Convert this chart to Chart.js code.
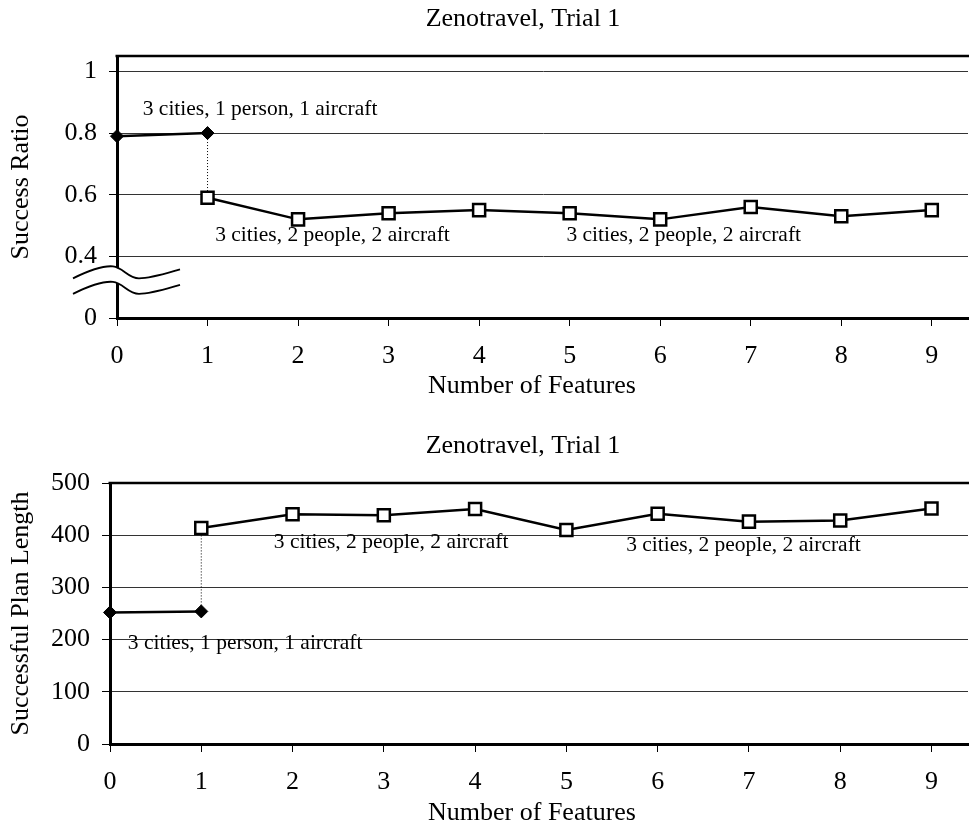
<!DOCTYPE html>
<html>
<head>
<meta charset="utf-8">
<script src="https://cdn.jsdelivr.net/npm/chart.js@4/dist/chart.umd.min.js"></script>
<style>
  html, body { margin: 0; padding: 0; background: #fff; }
  #wrap { width: 969px; height: 830px; }
  canvas { display: block; }
</style>
</head>
<body>
<div id="wrap">
  <canvas id="ratio" width="969" height="427"></canvas>
  <canvas id="plan" width="969" height="403"></canvas>
</div>
<script>
// ---- data ----
const features = [0, 1, 2, 3, 4, 5, 6, 7, 8, 9];

// 3 cities, 1 person, 1 aircraft
const smallFeatures = [0, 1];
const smallRatio = [0.79, 0.80];
const smallLength = [252, 254];

// 3 cities, 2 people, 2 aircraft
const largeFeatures = [1, 2, 3, 4, 5, 6, 7, 8, 9];
const largeRatio = [0.59, 0.52, 0.54, 0.55, 0.54, 0.52, 0.56, 0.53, 0.55];
const largeLength = [414, 440, 438, 450, 410, 441, 426, 428, 451];

// The ratio axis is broken between 0 and 0.4: zero is placed one step below 0.4.
const ratioTicks = [0.2, 0.4, 0.6, 0.8, 1.0];
const ratioTickLabels = ['0', '0.4', '0.6', '0.8', '1'];
const lengthTicks = [0, 100, 200, 300, 400, 500];

// Text labels placed in data coordinates
const ratioNotes = ['3 cities, 1 person, 1 aircraft', '3 cities, 2 people, 2 aircraft', '3 cities, 2 people, 2 aircraft'];
const ratioNoteX = [1.58, 2.38, 6.26];
const ratioNoteY = [0.876, 0.467, 0.467];
const lengthNotes = ['3 cities, 2 people, 2 aircraft', '3 cities, 2 people, 2 aircraft', '3 cities, 1 person, 1 aircraft'];
const lengthNoteX = [3.08, 6.94, 1.48];
const lengthNoteY = [387, 380, 193];

const chartTitle = 'Zenotravel, Trial 1';
const xTitle = 'Number of Features';
const FONT = '"Liberation Serif", "Times New Roman", serif';

// ---- plugins ----
const decorPlugin = {
  id: 'decor',
  afterDraw(chart, args, opts) {
    const { ctx, chartArea: a } = chart;
    ctx.save();
    // heavy top frame line
    ctx.strokeStyle = '#000';
    ctx.lineWidth = 2.5;
    ctx.beginPath();
    ctx.moveTo(a.left - 1.5, a.top);
    ctx.lineTo(chart.width, a.top);
    ctx.stroke();
    // chart title and x-axis title
    ctx.fillStyle = '#000';
    ctx.textAlign = 'center';
    ctx.textBaseline = 'middle';
    ctx.font = '26px ' + FONT;
    ctx.fillText(opts.title, opts.titleX, opts.titleY);
    ctx.fillText(opts.xTitle, opts.xTitleX, chart.scales.x.bottom - 15.6);
    // notes
    ctx.font = '21.5px ' + FONT;
    const xs = chart.scales.x, ys = chart.scales.y;
    opts.notes.forEach((t, i) => {
      ctx.fillText(t, xs.getPixelForValue(opts.noteX[i]), ys.getPixelForValue(opts.noteY[i]));
    });
    ctx.restore();
  }
};

const breakPlugin = {
  id: 'axisBreak',
  afterDraw(chart) {
    const { ctx } = chart;
    const x0 = chart.chartArea.left;
    const yb = chart.scales.y.getPixelForValue(0.4) + 22;
    const wave = (dy) => {
      ctx.beginPath();
      ctx.moveTo(x0 - 44, yb + dy);
      ctx.bezierCurveTo(x0 - 28, yb + dy - 8, x0 - 15, yb + dy - 13, x0 - 4, yb + dy - 12);
      ctx.bezierCurveTo(x0 + 6, yb + dy - 11, x0 + 11, yb + dy, x0 + 22, yb + dy);
      ctx.bezierCurveTo(x0 + 34, yb + dy, x0 + 49, yb + dy - 5, x0 + 63, yb + dy - 9);
    };
    ctx.save();
    ctx.lineCap = 'butt';
    ctx.strokeStyle = '#fff';
    ctx.lineWidth = 14;
    wave(7.75);
    ctx.stroke();
    ctx.strokeStyle = '#000';
    ctx.lineWidth = 1.8;
    wave(0);
    ctx.stroke();
    wave(15.5);
    ctx.stroke();
    ctx.restore();
  }
};

// ---- builders ----
const pts = (xs, ys) => xs.map((x, i) => ({ x, y: ys[i] }));

function datasets(small, large) {
  return [
    {
      data: pts(largeFeatures, large),
      borderColor: '#000', borderWidth: 2.5, tension: 0, fill: false, clip: false,
      pointStyle: 'rect', pointRadius: 8.5, pointBorderWidth: 2.5,
      pointBackgroundColor: '#fff', pointBorderColor: '#000'
    },
    {
      data: pts(smallFeatures, small),
      borderColor: '#000', borderWidth: 2.5, tension: 0, fill: false, clip: false,
      pointStyle: 'rectRot', pointRadius: 6.5, pointBorderWidth: 1,
      pointBackgroundColor: '#000', pointBorderColor: '#000'
    },
    {
      // dotted link between the two configurations at one feature
      data: [{ x: 1, y: small[1] }, { x: 1, y: large[0] }],
      borderColor: '#000', borderWidth: 1, borderDash: [1, 2], pointRadius: 0, fill: false
    }
  ];
}

function xScale(height) {
  return {
    type: 'linear', min: 0, max: 9.4,
    afterBuildTicks: s => { s.ticks = features.map(v => ({ value: v })); },
    afterFit: s => { s.height = height; s.paddingLeft = 0; s.paddingRight = 0; },
    grid: { drawOnChartArea: false, drawTicks: true, tickLength: 8, color: '#000', lineWidth: 1 },
    border: { display: true, color: '#000', width: 3 },
    ticks: { padding: 15, color: '#000', font: { family: FONT, size: 26 }, maxRotation: 0, autoSkip: false },
    title: { display: false }
  };
}

function yScale(width, min, max, tickVals, labelFn, titleText) {
  return {
    type: 'linear', min, max,
    afterBuildTicks: s => { s.ticks = tickVals.map(v => ({ value: v })); },
    afterFit: s => { s.width = width; s.paddingTop = 0; s.paddingBottom = 0; },
    grid: { color: '#333', lineWidth: 1, drawTicks: true, tickLength: 8, tickColor: '#000' },
    border: { display: true, color: '#000', width: 3 },
    ticks: { padding: 12, color: '#000', font: { family: FONT, size: 26 }, callback: labelFn },
    title: { display: true, text: titleText, color: '#000', font: { family: FONT, size: 26 }, padding: { top: 6, bottom: 0 } }
  };
}

const common = {
  responsive: false,
  animation: false,
  devicePixelRatio: 1,
  events: []
};

new Chart(document.getElementById('ratio'), {
  type: 'line',
  data: { datasets: datasets(smallRatio, largeRatio) },
  options: Object.assign({}, common, {
    layout: { autoPadding: false, padding: { top: 56, right: 1, bottom: 25, left: 0 } },
    scales: {
      x: xScale(84),
      y: yScale(117, 0.2, 1.05, ratioTicks, (v, i) => ratioTickLabels[i], 'Success Ratio')
    },
    plugins: {
      legend: { display: false },
      tooltip: { enabled: false },
      decor: { title: chartTitle, titleX: 523, titleY: 19, xTitle, xTitleX: 532,
               notes: ratioNotes, noteX: ratioNoteX, noteY: ratioNoteY }
    }
  }),
  plugins: [decorPlugin, breakPlugin]
});

new Chart(document.getElementById('plan'), {
  type: 'line',
  data: { datasets: datasets(smallLength, largeLength) },
  options: Object.assign({}, common, {
    layout: { autoPadding: false, padding: { top: 56, right: 1, bottom: 1, left: 0 } },
    scales: {
      x: xScale(85),
      y: yScale(110, 0, 500, lengthTicks, (v) => String(v), 'Successful Plan Length')
    },
    plugins: {
      legend: { display: false },
      tooltip: { enabled: false },
      decor: { title: chartTitle, titleX: 523, titleY: 19, xTitle, xTitleX: 532,
               notes: lengthNotes, noteX: lengthNoteX, noteY: lengthNoteY }
    }
  }),
  plugins: [decorPlugin]
});
</script>
</body>
</html>
